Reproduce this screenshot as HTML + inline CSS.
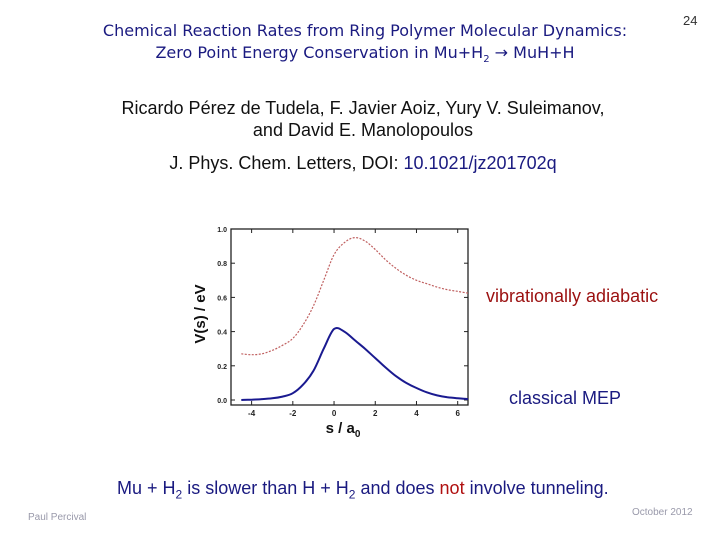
<!DOCTYPE html>
<html><head><meta charset="utf-8"><style>
body{margin:0;width:720px;height:540px;background:#fff;position:relative;overflow:hidden;font-family:"Liberation Sans",sans-serif}
.a{position:absolute;white-space:nowrap}
</style></head><body>
<div class="a" style="left:0;width:730px;top:20px;text-align:center;font-family:'DejaVu Sans',sans-serif;font-size:16px;line-height:22px;color:#1a1a80">Chemical Reaction Rates from Ring Polymer Molecular Dynamics:<br>Zero Point Energy Conservation in Mu+H<sub style="font-size:10px">2</sub> → MuH+H</div>
<div class="a" style="left:683px;top:13px;font-size:13px;color:#333">24</div>
<div class="a" style="left:0;width:726px;top:97px;text-align:center;font-size:18px;line-height:22px;color:#111">Ricardo Pérez de Tudela, F. Javier Aoiz, Yury V. Suleimanov,<br>and David E. Manolopoulos</div>
<div class="a" style="left:0;width:726px;top:153px;text-align:center;font-size:18px;color:#111">J. Phys. Chem. Letters, DOI: <span style="color:#1a1a80">10.1021/jz201702q</span></div>
<svg class="a" style="left:0;top:0" width="720" height="540" id="ch"></svg>
<div class="a" style="left:486px;top:286px;font-size:18px;color:#9b1010">vibrationally adiabatic</div>
<div class="a" style="left:509px;top:388px;font-size:18px;color:#1a1a80">classical MEP</div>
<div class="a" style="left:117px;top:478px;font-size:18px;color:#1a1a80">Mu + H<sub style="font-size:12px">2</sub> is slower than H + H<sub style="font-size:12px">2</sub> and does <span style="color:#b01010">not</span> involve tunneling.</div>
<div class="a" style="left:28px;top:512px;font-size:10px;color:#99a">Paul Percival</div>
<div class="a" style="left:632px;top:507px;font-size:10px;color:#99a">October 2012</div>
<script>
const sVals=[-4.5,-4,-3.5,-3,-2.5,-2,-1.5,-1,-0.5,0,0.5,1,1.5,2,2.5,3,3.5,4,4.5,5,5.5,6,6.5];
const classical=[0,0.002,0.005,0.01,0.02,0.04,0.09,0.17,0.30,0.415,0.40,0.35,0.30,0.245,0.19,0.14,0.10,0.07,0.045,0.027,0.016,0.01,0.005];
const adiabatic=[0.27,0.265,0.27,0.29,0.32,0.36,0.44,0.55,0.70,0.85,0.92,0.95,0.93,0.88,0.82,0.77,0.73,0.70,0.68,0.66,0.645,0.635,0.625];
const xTicks=[-4,-2,0,2,4,6];
const yTicks=[0.0,0.2,0.4,0.6,0.8,1.0];
const svg=document.getElementById('ch');const NS='http://www.w3.org/2000/svg';
const X0=231,X1=468,Y0=405,Y1=229;
const xs=v=>X0+(v+5)/(11.5)*(X1-X0);
const ys=v=>400-v*171;
function mk(t,a){const e=document.createElementNS(NS,t);for(const k in a)e.setAttribute(k,a[k]);svg.appendChild(e);return e;}
const fr=mk('rect',{x:X0,y:Y1,width:X1-X0,height:Y0-Y1,fill:'none',stroke:'#222','stroke-width':1.3});


xTicks.forEach(v=>{const x=xs(v);mk('line',{x1:x,x2:x,y1:Y0,y2:Y0-4,stroke:'#222'});mk('line',{x1:x,x2:x,y1:Y1,y2:Y1+4,stroke:'#222'});
const t=mk('text',{x:x,y:Y0+11,'font-size':8,'text-anchor':'middle','font-family':'Liberation Sans',fill:'#222','font-weight':'bold'});t.textContent=v;

});
yTicks.forEach(v=>{const y=ys(v);mk('line',{x1:X0,x2:X0+4,y1:y,y2:y,stroke:'#222'});mk('line',{x1:X1,x2:X1-4,y1:y,y2:y,stroke:'#222'});
const t=mk('text',{x:X0-4,y:y+3,'font-size':7,'text-anchor':'end','font-family':'Liberation Sans',fill:'#222','font-weight':'bold'});t.textContent=v.toFixed(1);

});
const yt=mk('text',{x:0,y:0,'font-size':15,'text-anchor':'middle','font-family':'Liberation Sans',fill:'#111','font-weight':'bold',transform:'translate(205,314) rotate(-90)'});yt.textContent='V(s) / eV';


const xt=mk('text',{x:343,y:433,'font-size':15,'text-anchor':'middle','font-family':'Liberation Sans',fill:'#111','font-weight':'bold'});xt.innerHTML='s / a<tspan font-size="10" dy="4">0</tspan>';


function path(vals){const p=sVals.map((s,i)=>[xs(s),ys(vals[i])]);let d='M'+p[0][0].toFixed(1)+','+p[0][1].toFixed(1);
for(let i=0;i<p.length-1;i++){const a=p[Math.max(0,i-1)],b=p[i],c=p[i+1],e=p[Math.min(p.length-1,i+2)];
const c1=[b[0]+(c[0]-a[0])/6,b[1]+(c[1]-a[1])/6],c2=[c[0]-(e[0]-b[0])/6,c[1]-(e[1]-b[1])/6];
d+='C'+c1[0].toFixed(1)+','+c1[1].toFixed(1)+' '+c2[0].toFixed(1)+','+c2[1].toFixed(1)+' '+c[0].toFixed(1)+','+c[1].toFixed(1);}
return d;}
const p1=mk('path',{d:path(adiabatic),fill:'none',stroke:'#c06060','stroke-width':1.2,'stroke-dasharray':'2,1.5'});


const p2=mk('path',{d:path(classical),fill:'none',stroke:'#1a1a90','stroke-width':2});


</script>
</body></html>
